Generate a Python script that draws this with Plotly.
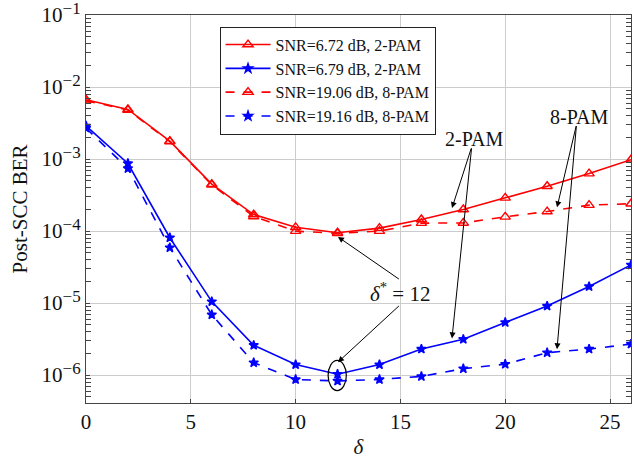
import plotly.graph_objects as go
import numpy as np

delta = [0, 2, 4, 6, 8, 10, 12, 14, 16, 18, 20, 22, 24, 26]
ber_2pam_672 = [6.7e-3, 4.9e-3, 1.78e-3, 4.5e-4, 1.7e-4, 1.13e-4, 9.5e-5, 1.1e-4, 1.45e-4, 2.0e-4, 2.9e-4, 4.2e-4, 6.3e-4, 9.8e-4]
ber_2pam_679 = [2.9e-3, 8.7e-4, 8.1e-5, 1.05e-5, 2.6e-6, 1.4e-6, 1.03e-6, 1.4e-6, 2.3e-6, 3.15e-6, 5.4e-6, 9.1e-6, 1.7e-5, 3.4e-5]
ber_8pam_1906 = [6.5e-3, 4.8e-3, 1.75e-3, 4.4e-4, 1.6e-4, 1.0e-4, 9.3e-5, 1.0e-4, 1.29e-4, 1.3e-4, 1.58e-4, 1.87e-4, 2.3e-4, 2.4e-4]
ber_8pam_1916 = [2.7e-3, 7.4e-4, 5.9e-5, 6.9e-6, 1.49e-6, 8.7e-7, 8.3e-7, 8.7e-7, 9.6e-7, 1.23e-6, 1.42e-6, 2.05e-6, 2.3e-6, 2.7e-6]

names = ["SNR=6.72 dB, 2-PAM", "SNR=6.79 dB, 2-PAM", "SNR=19.06 dB, 8-PAM", "SNR=19.16 dB, 8-PAM"]
x_ticks = [0, 5, 10, 15, 20, 25]
y_exponents = [-6, -5, -4, -3, -2, -1]
y_major = [10.0 ** e for e in y_exponents]
y_labels = ["10<sup><span style='font-size:17px'>\u2212%d</span></sup>" % (-e) for e in y_exponents]
y_minor = [k * 10.0 ** e for e in range(-7, -1) for k in range(2, 10)]

RED = "#ff0000"
BLUE = "#0000ff"
FONT = "Liberation Serif"
Y_RANGE = [np.log10(4.1e-7), -0.998]

fig = go.Figure()
series = [
    (ber_2pam_672, RED, "solid", "triangle-up-open", 9),
    (ber_2pam_679, BLUE, "solid", "star", 7),
    (ber_8pam_1906, RED, "dash", "triangle-up-open", 9),
    (ber_8pam_1916, BLUE, "dash", "star", 7),
]
for (ys, col, dash, sym, ms), nm in zip(series, names):
    fig.add_trace(go.Scatter(
        x=delta, y=ys, name=nm, mode="lines+markers",
        line=dict(color=col, width=1.6, dash=dash),
        marker=dict(symbol=sym, size=ms, color=col, line=dict(color=col, width=1.4)),
    ))

axis_common = dict(
    showline=True, linecolor="#444", linewidth=1.2, mirror=True,
    showgrid=True, gridcolor="#cccccc", gridwidth=1,
    ticks="inside", ticklen=4, tickcolor="#444",
    tickfont=dict(family=FONT, size=21, color="#111"),
    zeroline=False, automargin=False, ticklabeloverflow="allow",
)

fig.update_xaxes(range=[0, 26], tickvals=x_ticks,
                 title=dict(text="<i>δ</i>", font=dict(family=FONT, size=21, color="#111"), standoff=6),
                 **axis_common)
fig.update_yaxes(type="log", range=Y_RANGE, tickmode="array",
                 tickvals=y_major, ticktext=y_labels,
                 title=dict(text="Post-SCC BER", font=dict(family=FONT, size=21, color="#111"), standoff=8),
                 **axis_common)

# minor ticks via an overlaying, label-free axis
fig.update_layout(yaxis2=dict(
    type="log", range=Y_RANGE, overlaying="y", side="left", anchor="x",
    tickmode="array", tickvals=y_minor, showticklabels=False,
    ticks="inside", ticklen=5, tickcolor="#444", tickwidth=1, mirror="ticks",
    showgrid=False, zeroline=False, showline=False, automargin=False,
))
fig.add_trace(go.Scatter(x=[0], y=[1e-3], yaxis="y2", mode="markers", marker=dict(opacity=0),
                         showlegend=False, hoverinfo="skip"))

def arrow(tx, ty, hx, hy):
    fig.add_annotation(x=hx, y=np.log10(hy), ax=tx, ay=np.log10(ty), xref="x", yref="y",
                       axref="x", ayref="y", text="", showarrow=True,
                       arrowhead=2, arrowsize=1.2, arrowwidth=1, arrowcolor="#000")

# 2-PAM labels
fig.add_annotation(x=18.5, y=-2.72, xref="x", yref="y", text="2-PAM", showarrow=False,
                   font=dict(family=FONT, size=20, color="#111"))
arrow(18.4, 10**-2.83, 17.46, 10**-3.68)
arrow(18.4, 10**-2.83, 17.46, 10**-5.49)
# 8-PAM labels
fig.add_annotation(x=23.5, y=-2.42, xref="x", yref="y", text="8-PAM", showarrow=False,
                   font=dict(family=FONT, size=20, color="#111"))
arrow(23.4, 10**-2.52, 22.47, 10**-3.67)
arrow(23.4, 10**-2.52, 22.47, 10**-5.64)
# delta* label
fig.add_annotation(x=15.0, y=-4.85, xref="x", yref="y", text="<i>δ</i><sup>*</sup> = 12", showarrow=False,
                   font=dict(family=FONT, size=21, color="#111"))
arrow(15.0, 10**-4.68, 12.02, 10**-4.08)
arrow(15.0, 10**-5.02, 12.02, 10**-5.82)
# ellipse around optimum
fig.add_shape(type="circle", xref="x", yref="y", x0=11.55, x1=12.42, y0=6.1e-7, y1=1.6e-6,
              line=dict(color="#000", width=1.2))

fig.update_layout(
    width=634, height=461,
    margin=dict(l=86, r=3, t=15, b=58),
    plot_bgcolor="white", paper_bgcolor="white",
    font=dict(family=FONT, color="#111"),
    showlegend=True,
    legend=dict(x=0.245, y=0.97, xanchor="left", yanchor="top",
                bordercolor="#222", borderwidth=1, bgcolor="white",
                font=dict(family=FONT, size=16, color="#111"),
                tracegroupgap=0, itemwidth=45),
)

fig.write_html("out.html")
